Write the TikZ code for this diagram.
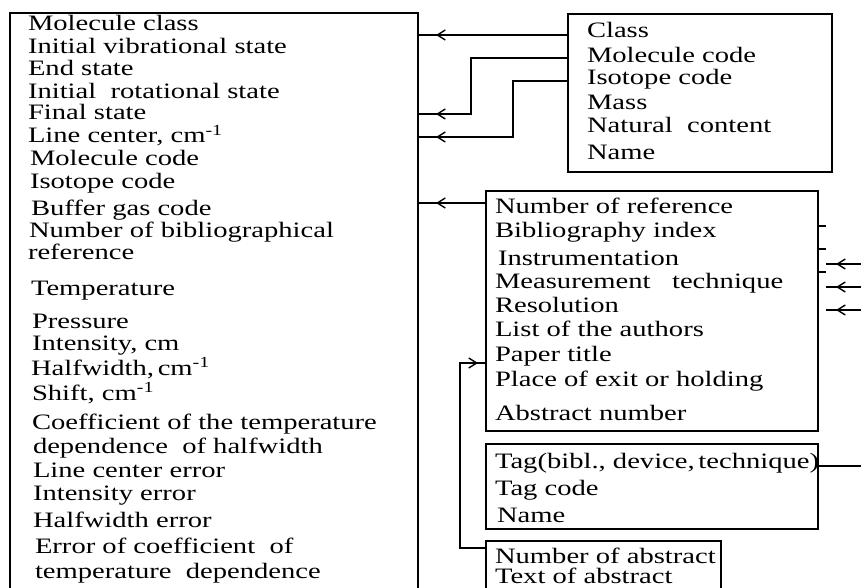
\documentclass[tikz,border=0pt]{standalone}
\usepackage{fontspec}
\setmainfont{Liberation Serif}[FakeStretch=1.3]
\usetikzlibrary{arrows.meta,decorations.markings}
\tikzset{
  box/.style={draw, line width=1.6pt, inner sep=0pt, outer sep=0pt, anchor=north west},
  lbl/.style={inner sep=0pt, outer sep=0pt, anchor=base west, font=\fontsize{22}{22}\selectfont},
  conn/.style={line width=1.6pt},
  barbat/.style={postaction={decorate}, decoration={markings,
     mark=at position #1 with {\arrow{Straight Barb[length=8pt,width=10pt,line width=1.4pt]}}}},
}
\begin{document}
\begin{tikzpicture}[x=1pt,y=-1pt]
\useasboundingbox (0,0) rectangle (861,588);
% boxes
\node[box, minimum width=408, minimum height=620] (main) at (10,13) {};
\node[box, minimum width=264, minimum height=158] (cls) at (568,14) {};
\node[box, minimum width=332, minimum height=240] (bib) at (486,191) {};
\node[box, minimum width=332, minimum height=85] (tag) at (486,444) {};
\node[box, minimum width=235, minimum height=80] (abs) at (486,541) {};
% main texts
\node[lbl] (m1) at (28,31) {Molecule class};
\node[lbl] (m2) at (28,54) {Initial vibrational state};
\node[lbl] (m3) at (28,76) {End state};
\node[lbl] (m4) at (28,99) {Initial\ \ rotational state};
\node[lbl] (m5) at (28,120) {Final state};
\node[lbl] (m6) at (28,143) {Line center, cm\textsuperscript{-1}};
\node[lbl] (m7) at (30,166) {Molecule code};
\node[lbl] (m8) at (30,188) {Isotope code};
\node[lbl] (m9) at (31,215) {Buffer gas code};
\node[lbl] (m10) at (29,237) {Number of bibliographical};
\node[lbl] (m11) at (28,259) {reference};
\node[lbl] (m12) at (31,295) {Temperature};
\node[lbl] (m13) at (32,328) {Pressure};
\node[lbl] (m14) at (32,350) {Intensity, cm};
\node[lbl] (m15) at (31,375) {Halfwidth,\,cm\textsuperscript{-1}};
\node[lbl] (m16) at (32,400) {Shift, cm\textsuperscript{-1}};
\node[lbl] (m17) at (32,429) {Coefficient of the temperature};
\node[lbl] (m18) at (33,453) {dependence\ \ of halfwidth};
\node[lbl] (m19) at (33,477) {Line center error};
\node[lbl] (m20) at (33,500) {Intensity error};
\node[lbl] (m21) at (33,527) {Halfwidth error};
\node[lbl] (m22) at (35,553) {Error of coefficient\ \ of};
\node[lbl] (m23) at (35,578) {temperature\ \ dependence};
% class texts
\node[lbl] (c1) at (587,38) {Class};
\node[lbl] (c2) at (587,63) {Molecule code};
\node[lbl] (c3) at (587,85) {Isotope code};
\node[lbl] (c4) at (587,110) {Mass};
\node[lbl] (c5) at (587,133) {Natural\ \ content};
\node[lbl] (c6) at (587,160) {Name};
% bib texts
\node[lbl] (b1) at (495,213) {Number of reference};
\node[lbl] (b2) at (495,237) {Bibliography index};
\node[lbl] (b3) at (498,265) {Instrumentation};
\node[lbl] (b4) at (495,288) {Measurement\ \ \ technique};
\node[lbl] (b5) at (495,312) {Resolution};
\node[lbl] (b6) at (495,336) {List of the authors};
\node[lbl] (b7) at (495,361) {Paper title};
\node[lbl] (b8) at (495,386) {Place of exit or holding};
\node[lbl] (b9) at (495,420) {Abstract number};
% tag texts
\node[lbl] (t1) at (495,468) {Tag(bibl., device,\,technique)};
\node[lbl] (t2) at (495,495) {Tag code};
\node[lbl] (t3) at (497,522) {Name};
% abstract texts
\node[lbl] (a1) at (495,563) {Number of abstract};
\node[lbl] (a2) at (495,583) {Text of abstract};
% connectors into main box
\draw[conn, barbat=-18pt] (cls.west |- 0,35) -- (main.east |- 0,35);
\draw[conn, barbat=-18pt] (cls.west |- 0,58) -| (471,114) -- (main.east |- 0,114);
\draw[conn, barbat=-18pt] (cls.west |- 0,81) -| (513,137) -- (main.east |- 0,137);
\draw[conn, barbat=-18pt] (bib.west |- 0,203) -- (main.east |- 0,203);
% abstract to paper title
\draw[conn, barbat=-8pt] (abs.west |- 0,548) -| (460,363) -- (bib.west |- 0,363);
% tag outgoing line
\coordinate (tagout) at (875,466);
\draw[conn] (tag.east |- 0,466) -- (tagout);
% stubs on bib right side
\draw[conn] (bib.east |- 0,226) -- ++(8,0);
\draw[conn] (bib.east |- 0,249) -- ++(8,0);
\draw[conn] (bib.east |- 0,272) -- ++(8,0);
% incoming arrows from the right
\coordinate (in1) at (875,264);
\coordinate (in2) at (875,287);
\coordinate (in3) at (875,310);
\coordinate (e1) at (826,264);
\coordinate (e2) at (826,287);
\coordinate (e3) at (826,310);
\draw[conn, barbat=-10pt] (in1) -- (e1);
\draw[conn, barbat=-10pt] (in2) -- (e2);
\draw[conn, barbat=-10pt] (in3) -- (e3);
\end{tikzpicture}
\end{document}
